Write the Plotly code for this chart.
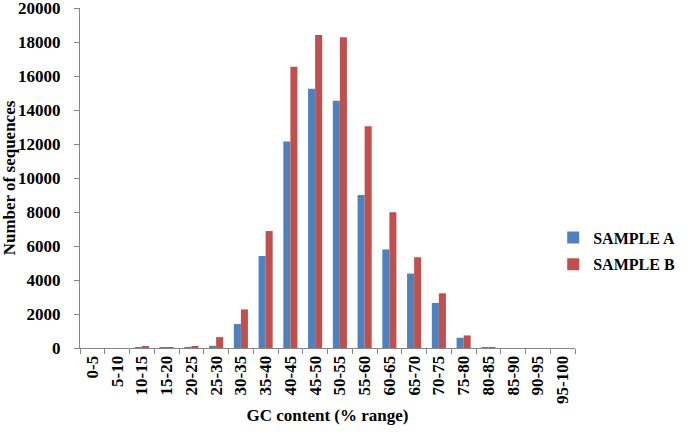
import plotly.graph_objects as go

categories = ["0-5", "5-10", "10-15", "15-20", "20-25", "25-30", "30-35", "35-40", "40-45",
              "45-50", "50-55", "55-60", "60-65", "65-70", "70-75", "75-80", "80-85",
              "85-90", "90-95", "95-100"]
sample_a = [0, 0, 20, 30, 50, 130, 1410, 5410, 12150, 15250, 14550, 9000, 5800, 4380, 2650, 600, 30, 0, 0, 0]
sample_b = [0, 0, 60, 40, 110, 640, 2270, 6880, 16550, 18420, 18280, 13050, 7990, 5340, 3220, 740, 30, 0, 0, 0]
y_ticks = [0, 2000, 4000, 6000, 8000, 10000, 12000, 14000, 16000, 18000, 20000]

FONT = "Liberation Serif"
axis_col = "#868686"

fig = go.Figure()
fig.add_trace(go.Bar(x=categories, y=sample_a, name="<b>SAMPLE A</b>", marker_color="#4F81BD",
                     marker_line_width=0, legendgroup="a"))
fig.add_trace(go.Bar(x=categories, y=sample_b, name="<b>SAMPLE B</b>", marker_color="#C0504D",
                     marker_line_width=0, legendgroup="b"))

fig.update_layout(
    width=700, height=434,
    margin=dict(l=80, r=125, t=8, b=86),
    paper_bgcolor="white", plot_bgcolor="white",
    font=dict(family=FONT, size=17, color="black"),
    barmode="group", bargap=0.43, bargroupgap=0,
    legend=dict(x=0.956, xanchor="left", y=0.375, yanchor="top",
                font=dict(family=FONT, size=16, color="black"),
                traceorder="grouped", tracegroupgap=3),
    xaxis=dict(
        type="category", showline=True, linecolor=axis_col, linewidth=1, automargin=False,
        ticks="outside", tickson="boundaries", ticklen=5, tickcolor=axis_col,
        tickangle=-90, tickfont=dict(family=FONT, size=17, color="black", weight="bold"),
        title=dict(text="<b>GC content (% range)</b>", font=dict(family=FONT, size=17), standoff=6),
        showgrid=False,
    ),
    yaxis=dict(
        range=[0, 20005], tickmode="array", tickvals=y_ticks, ticktext=[str(v) for v in y_ticks],
        showline=True, linecolor=axis_col, linewidth=1, automargin=False,
        ticks="outside", ticklen=5, tickcolor=axis_col, showgrid=False, zeroline=False,
        ticklabelstandoff=10, ticklabeloverflow="allow",
        tickfont=dict(family=FONT, size=17, color="black", weight="bold"),
        title=dict(text="<b>Number of sequences</b>", font=dict(family=FONT, size=17), standoff=2),
    ),
)

fig.write_html("out.html", config={"displayModeBar": False},
               post_script="document.body.style.margin='0px';")
